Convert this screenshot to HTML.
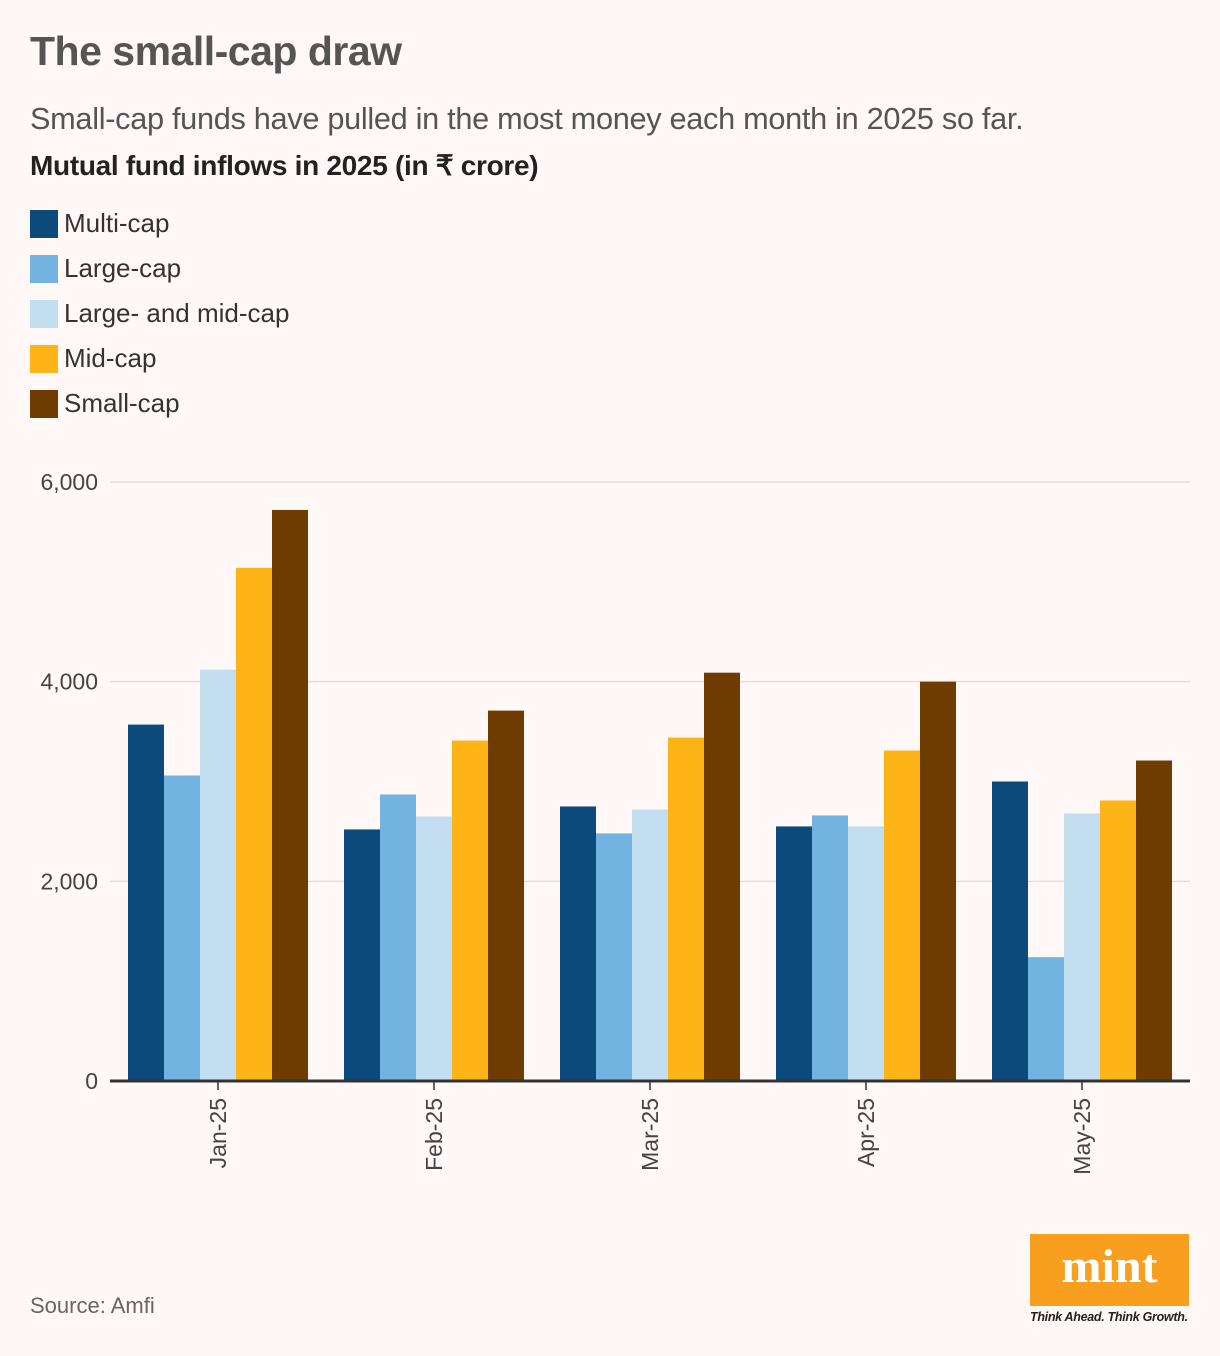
<!DOCTYPE html>
<html><head><meta charset="utf-8">
<style>
body{margin:0;width:1220px;height:1356px;background:#fff8f6;font-family:"Liberation Sans",sans-serif;position:relative;overflow:hidden}
.t{position:absolute;white-space:nowrap}
</style></head><body>
<div class="t" style="left:30px;top:28px;font-size:41px;font-weight:bold;color:#555;letter-spacing:-0.5px">The small-cap draw</div>
<div class="t" style="left:30px;top:101px;font-size:30.7px;color:#555;letter-spacing:-0.3px">Small-cap funds have pulled in the most money each month in 2025 so far.</div>
<div class="t" style="left:30px;top:149px;font-size:28px;font-weight:bold;color:#222;letter-spacing:-0.3px">Mutual fund inflows in 2025 (in ₹ crore)</div>
<div id="legend"></div>
<svg id="chart" width="1220" height="1356" style="position:absolute;left:0;top:0"></svg>
<div class="t" style="left:30px;top:1293px;font-size:22px;color:#666">Source: Amfi</div>
<div style="position:absolute;left:1030px;top:1234px;width:159px;height:72px;background:#f99f1f;color:#fff;font-family:'Liberation Serif',serif;font-weight:bold;font-size:48px;text-align:center;line-height:66px">mint</div>
<div class="t" style="left:1030px;top:1310px;font-size:12.5px;font-style:italic;font-weight:bold;color:#222;letter-spacing:-0.3px">Think Ahead. Think Growth.</div>
<script>
const categories=["Jan-25","Feb-25","Mar-25","Apr-25","May-25"];
const seriesNames=["Multi-cap","Large-cap","Large- and mid-cap","Mid-cap","Small-cap"];
const multiCap=[3570,2520,2750,2550,3000];
const largeCap=[3060,2870,2480,2660,1240];
const largeMidCap=[4120,2650,2720,2550,2680];
const midCap=[5140,3410,3440,3310,2810];
const smallCap=[5720,3710,4090,4000,3210];
const yTicks=[0,2000,4000,6000];
const colors=["#0b4a7a","#72b3e2","#c3def0","#fdb416","#6e3b00"];
const series=[multiCap,largeCap,largeMidCap,midCap,smallCap];
const ns="http://www.w3.org/2000/svg";
const svg=document.getElementById('chart');
const y=v=>1081-v*599/6000;
const gx=i=>128+i*216;
const bw=36;
function mk(t,a){const e=document.createElementNS(ns,t);for(const k in a)e.setAttribute(k,a[k]);svg.appendChild(e);return e;}
yTicks.forEach(v=>{
 if(v>0){const l=mk('line',{x1:110,x2:1190,y1:y(v),y2:y(v),stroke:'#e3dcda','stroke-width':1.5});
 
 }
 const t=mk('text',{x:98,y:y(v)+8,'text-anchor':'end','font-size':23,fill:'#444','font-family':'Liberation Sans, sans-serif'});
 t.textContent=v.toLocaleString('en-US');
 
 
});
series.forEach((s,si)=>s.forEach((v,i)=>{
 const r=mk('rect',{x:gx(i)+si*bw,y:y(v),width:bw,height:y(0)-y(v),fill:colors[si]});
 
 
}));
const ax=mk('line',{x1:110,x2:1190,y1:1081,y2:1081,stroke:'#333','stroke-width':3});


categories.forEach((c,i)=>{
 const cx=gx(i)+2.5*bw;
 const tk=mk('line',{x1:cx,x2:cx,y1:1081,y2:1090,stroke:'#333','stroke-width':1.5});
 
 
 const t=mk('text',{x:0,y:0,'text-anchor':'end','font-size':23,fill:'#444','font-family':'Liberation Sans, sans-serif',transform:`translate(${cx+8},1098) rotate(-90)`});
 t.textContent=c;
 
 
});
const lg=document.getElementById('legend');
seriesNames.forEach((n,i)=>{
 const d=document.createElement('div');
 d.className='t';
 d.style.cssText=`left:30px;top:${208+i*45}px;font-size:26px;color:#333;line-height:30px`;
 d.innerHTML=`<span style="display:inline-block;width:28px;height:28px;background:${colors[i]};vertical-align:-6px;margin-right:6px"></span>${n}`;
 
 
 lg.appendChild(d);
});
</script>
</body></html>
